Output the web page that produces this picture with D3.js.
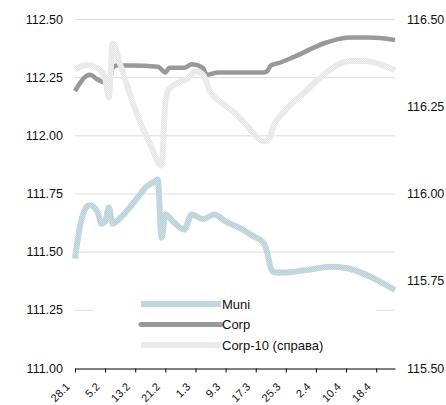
<!DOCTYPE html>
<html>
<head>
<meta charset="utf-8">
<script src="https://cdn.jsdelivr.net/npm/d3@7"></script>
<style>
  body { margin: 0; background: #fff; }
  svg { display: block; font-family: "Liberation Sans", Arial, sans-serif; }
</style>
</head>
<body>
<svg></svg>
<script>
// values ("day.month", value)
const muni = [
    ["28.1", 111.47], ["29.1", 111.58], ["31.1", 111.69], ["1.2", 111.70], ["3.2", 111.67],
    ["4.2", 111.62], ["5.2", 111.63], ["6.2", 111.69], ["7.2", 111.62], ["8.2", 111.63],
    ["11.2", 111.68], ["14.2", 111.74], ["16.2", 111.78], ["18.2", 111.80], ["19.2", 111.81],
    ["20.2", 111.56], ["21.2", 111.66], ["23.2", 111.63], ["26.2", 111.595], ["28.2", 111.66],
    ["3.3", 111.64], ["6.3", 111.66], ["9.3", 111.63], ["13.3", 111.60], ["16.3", 111.57],
    ["19.3", 111.54], ["20.3", 111.50], ["21.3", 111.43], ["22.3", 111.41], ["24.3", 111.41],
    ["30.3", 111.42], ["6.4", 111.435], ["10.4", 111.43], ["14.4", 111.41], ["18.4", 111.38],
    ["23.4", 111.335]
];
const corp = [
    ["28.1", 112.19], ["31.1", 112.255], ["1.2", 112.26], ["3.2", 112.24], ["5.2", 112.225],
    ["6.2", 112.22], ["7.2", 112.29], ["8.2", 112.30], ["12.2", 112.30], ["19.2", 112.295],
    ["21.2", 112.27], ["22.2", 112.29], ["26.2", 112.29], ["28.2", 112.305], ["3.3", 112.29],
    ["4.3", 112.26], ["7.3", 112.27], ["19.3", 112.27], ["20.3", 112.275], ["21.3", 112.30],
    ["23.3", 112.31], ["27.3", 112.336], ["5.4", 112.40], ["11.4", 112.42], ["16.4", 112.42],
    ["23.4", 112.41]
];
const corp10 = [
    ["28.1", 116.355], ["31.1", 116.368], ["3.2", 116.36], ["5.2", 116.33], ["6.2", 116.275],
    ["7.2", 116.43], ["9.2", 116.37], ["13.2", 116.24], ["17.2", 116.14], ["20.2", 116.08],
    ["21.2", 116.26], ["22.2", 116.30], ["25.2", 116.32], ["27.2", 116.33], ["1.3", 116.35],
    ["3.3", 116.34], ["5.3", 116.29], ["8.3", 116.26], ["12.3", 116.225], ["15.3", 116.19],
    ["19.3", 116.15], ["20.3", 116.15], ["22.3", 116.20], ["25.3", 116.24], ["30.3", 116.29],
    ["3.4", 116.33], ["8.4", 116.37], ["11.4", 116.38], ["15.4", 116.38], ["19.4", 116.37],
    ["23.4", 116.353]
];
const seriesNames = ["Muni", "Corp", "Corp-10 (справа)"];
const leftTicks = [111.00, 111.25, 111.50, 111.75, 112.00, 112.25, 112.50];
const rightTicks = [115.50, 115.75, 116.00, 116.25, 116.50];
const xTickLabels = ["28.1", "5.2", "13.2", "21.2", "1.3", "9.3", "17.3", "25.3", "2.4", "10.4", "18.4"];
const firstDay = "28.1", lastDay = "23.4";

const width = 446, height = 405;
const margin = { top: 19, right: 51, bottom: 37, left: 75 };
const axisFont = 12.5;

const parseDay = s => {
    const [d, m] = s.split(".").map(Number);
    return new Date(2013, m - 1, d);
};
const fmt = d3.format(".2f");

const xScale = d3.scaleTime()
    .domain([parseDay(firstDay), parseDay(lastDay)])
    .range([margin.left, width - margin.right]);

const yLeft = d3.scaleLinear()
    .domain([111, 112.5])
    .range([height - margin.bottom, margin.top]);

const yRight = d3.scaleLinear()
    .domain([115.5, 116.5])
    .range([height - margin.bottom, margin.top]);

const svg = d3.select("svg")
    .attr("width", width)
    .attr("height", height);

// textured stroke patterns
const defs = svg.append("defs");
const makePattern = (id, c1, c2) => {
    const p = defs.append("pattern")
        .attr("id", id)
        .attr("patternUnits", "userSpaceOnUse")
        .attr("width", 2).attr("height", 2);
    p.append("rect").attr("width", 2).attr("height", 2).attr("fill", c1);
    p.append("rect").attr("width", 1).attr("height", 1).attr("fill", c2);
    p.append("rect").attr("x", 1).attr("y", 1).attr("width", 1).attr("height", 1).attr("fill", c2);
};
makePattern("muniTex", "#b8d0d7", "#cadde2");
makePattern("corp10Tex", "#e4e4e4", "#f0f0f0");

// gridlines
svg.append("g")
    .selectAll("line")
    .data(leftTicks.slice(1))
    .join("line")
    .attr("x1", margin.left)
    .attr("x2", width - margin.right)
    .attr("y1", d => yLeft(d) + 0.5)
    .attr("y2", d => yLeft(d) + 0.5)
    .attr("stroke", "#dcdcdc")
    .attr("stroke-width", 1);

// left axis labels
const leftAxis = svg.append("g")
    .attr("transform", `translate(${margin.left},0)`)
    .call(d3.axisLeft(yLeft).tickValues(leftTicks).tickFormat(fmt).tickSize(0).tickPadding(12));
leftAxis.select(".domain").remove();
leftAxis.selectAll("text").attr("font-size", axisFont).attr("fill", "#111").attr("font-family", null);

// right axis labels
const rightAxis = svg.append("g")
    .attr("transform", `translate(${width - margin.right},0)`)
    .call(d3.axisRight(yRight).tickValues(rightTicks).tickFormat(fmt).tickSize(0).tickPadding(12));
rightAxis.select(".domain").remove();
rightAxis.selectAll("text").attr("font-size", axisFont).attr("fill", "#111").attr("font-family", null);

// lines
const toPoints = arr => arr.map(([d, v]) => ({ date: parseDay(d), value: v }));

const lineLeft = d3.line()
    .x(d => xScale(d.date))
    .y(d => yLeft(d.value))
    .curve(d3.curveMonotoneX);

const lineRight = d3.line()
    .x(d => xScale(d.date))
    .y(d => yRight(d.value))
    .curve(d3.curveMonotoneX);

svg.append("path")
    .datum(toPoints(muni))
    .attr("fill", "none")
    .attr("stroke", "url(#muniTex)")
    .attr("stroke-width", 6)
    .attr("stroke-linejoin", "round")
    .attr("d", lineLeft);

svg.append("path")
    .datum(toPoints(corp))
    .attr("fill", "none")
    .attr("stroke", "#999")
    .attr("stroke-width", 4.5)
    .attr("stroke-linejoin", "round")
    .attr("d", lineLeft);

svg.append("path")
    .datum(toPoints(corp10))
    .attr("fill", "none")
    .attr("stroke", "url(#corp10Tex)")
    .attr("stroke-width", 6)
    .attr("stroke-linejoin", "round")
    .attr("d", lineRight);

// x axis
const xTicks = xTickLabels.map(parseDay);
const xAxis = svg.append("g")
    .attr("transform", `translate(0,${height - margin.bottom + 0.5})`)
    .call(d3.axisBottom(xScale).tickValues(xTicks).tickFormat(d3.timeFormat("%-d.%-m")).tickSize(4).tickSizeOuter(0));
xAxis.select(".domain").attr("stroke", "#000");
xAxis.selectAll(".tick line").attr("stroke", "#000");
xAxis.selectAll("text")
    .attr("font-size", 11)
    .attr("fill", "#111")
    .attr("font-family", null)
    .attr("text-anchor", "end")
    .attr("y", 0)
    .attr("dy", 0)
    .attr("transform", "translate(-5,19) rotate(-45)");

// legend
const legend = svg.append("g");
legend.append("rect")
    .attr("x", 93).attr("y", 293)
    .attr("width", 283).attr("height", 62)
    .attr("fill", "#fff");

const legendStyles = [
    { stroke: "url(#muniTex)", w: 6, cap: "butt" },
    { stroke: "#999", w: 5, cap: "round" },
    { stroke: "url(#corp10Tex)", w: 6, cap: "butt" }
];
seriesNames.forEach((name, i) => {
    const y = 304 + i * 20.5;
    legend.append("line")
        .attr("x1", 141).attr("x2", 221)
        .attr("y1", y).attr("y2", y)
        .attr("stroke", legendStyles[i].stroke)
        .attr("stroke-width", legendStyles[i].w)
        .attr("stroke-linecap", legendStyles[i].cap);
    legend.append("text")
        .attr("x", 222).attr("y", y)
        .attr("dy", "0.36em")
        .attr("font-size", 13)
        .attr("fill", "#111")
        .text(name);
});
</script>
</body>
</html>
